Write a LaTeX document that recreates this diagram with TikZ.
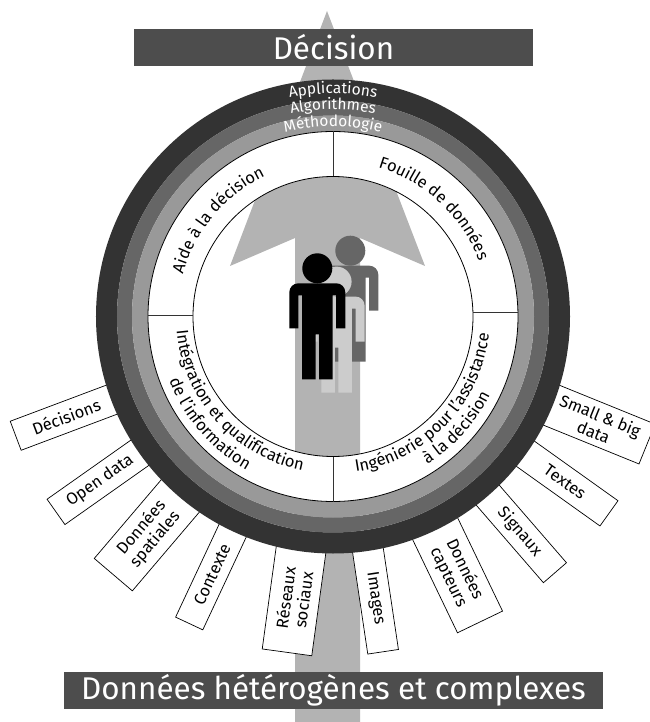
\documentclass[tikz,border=0pt]{standalone}
\usepackage{fontspec}
\usepackage{xcolor}
\setmainfont{Fira Sans}
\usetikzlibrary{decorations.text}

\definecolor{arrowgray}{HTML}{B3B3B3}
\definecolor{bannergray}{HTML}{4D4D4D}
\definecolor{ringdark}{HTML}{333333}
\definecolor{ringmid}{HTML}{666666}
\definecolor{ringlight}{HTML}{999999}
\definecolor{personlight}{HTML}{CCCCCC}

\newcommand{\labfont}{\fontsize{16.5}{18}\selectfont}
\newcommand{\ringfont}{\fontsize{15.5}{18}\selectfont}
\newcommand{\bannerfont}{\fontsize{31.4}{36}\selectfont}

\tikzset{
    srcbox/.style={draw=black,fill=white,line width=0.7pt,minimum width=108pt,inner sep=0pt,align=center,font=\labfont},
    banner/.style={fill=bannergray,text=white,minimum height=37pt,inner sep=0pt,font=\bannerfont},
    annulus/.style={even odd rule}
}

% text along an arc: start angle, end angle, radius, colour, font, text
\newcommand{\arctext}[6]{
    \path[decorate,decoration={text along path,text align=center,text color=#4,text={|#5|#6}}]
        (#1:#3) arc[start angle=#1,end angle=#2,radius=#3];
}
% one person: shift, colour
\newcommand{\drawperson}[2]{
    \begin{scope}[shift={#1}]
        \fill[#2] (0,0) circle (15);
        \fill[#2] (-28,-60) -- (-28,-24) arc[start angle=180,end angle=90,radius=9]
            -- (19,-15) arc[start angle=90,end angle=0,radius=9]
            -- (28,-60) -- (18.9,-60) -- (18.9,-27) -- (15.2,-27) -- (15.2,-111) -- (1.7,-111)
            -- (1.7,-66) -- (-1.7,-66) -- (-1.7,-111) -- (-15.2,-111) -- (-15.2,-27)
            -- (-18.9,-27) -- (-18.9,-60) -- cycle;
    \end{scope}
}

\begin{document}
\begin{tikzpicture}[x=1pt,y=1pt]
    \useasboundingbox (-333,-405.5) rectangle (316,316.5);

    % big arrow
    \fill[arrowgray] (-38,-405.5) -- (-38,78.5) -- (-103,50.5) -- (-6,305.5) -- (92,50.5) -- (27,78.5) -- (27,-405.5) -- cycle;

    % source boxes
    \foreach \ang/\wid/\lab [count=\i] in {200.6/31/Décisions,215.2/31/Open data,229.6/50/{Données\\spatiales},244.9/30/Contexte,262.2/50/{Réseaux\\sociaux}}{
        \node[srcbox,minimum height=\wid pt,rotate=\ang-180] (srcl\i) at (\ang:285) {\lab};
    }
    \foreach \ang/\wid/\lab [count=\i] in {278.5/31/Images,295.7/50/{Données\\capteurs},310.9/30.5/Signaux,324.5/31/Textes,337.9/43/{Small \& big\\data}}{
        \node[srcbox,minimum height=\wid pt,rotate=\ang] (srcr\i) at (\ang:285) {\lab};
    }

    % rings
    \fill[ringdark,annulus] (0,0) circle (237) (0,0) circle (216);
    \fill[ringmid,annulus] (0,0) circle (216) (0,0) circle (201);
    \fill[ringlight,annulus] (0,0) circle (201) (0,0) circle (185);
    \filldraw[fill=white,draw=black,line width=0.8pt,annulus] (0,0) circle (185) (0,0) circle (140);

    % sector limits
    \draw[ringdark,line width=0.8pt] (90:140) -- (90:185);
    \draw[ringdark,line width=0.8pt] (270:140) -- (270:185);
    \draw[ringdark,line width=0.8pt] (-185,0.8) -- (-140,0.8);
    \draw[ringdark,line width=0.8pt] (140,4) -- (185,4);

    % ring texts
    \arctext{150}{30}{223}{white}{\ringfont}{Applications}
    \arctext{150}{30}{207}{white}{\ringfont}{Algorithmes}
    \arctext{150}{30}{190}{white}{\ringfont}{Méthodologie}

    % sector texts
    \arctext{200}{80}{156}{black}{\labfont}{Aide à la décision}
    \arctext{107}{-13}{156}{black}{\labfont}{Fouille de données}
    \arctext{142}{302}{157}{black}{\labfont}{Intégration et qualification}
    \arctext{161}{281}{176}{black}{\labfont}{de l'information}
    \arctext{246}{386}{157}{black}{\labfont}{Ingénierie pour l'assistance}
    \arctext{258}{378}{175.5}{black}{\labfont}{à la décision}

    % persons
    \drawperson{(17.3,65.8)}{ringmid}
    \drawperson{(3.6,34.9)}{personlight}
    \drawperson{(-15.7,48.2)}{black}

    % banners
    \node[banner,minimum width=399pt] (decision) at (0.5,269) {Décision};
    \node[banner,minimum width=539pt] (donnees) at (0.5,-374) {Données hétérogènes et complexes};
\end{tikzpicture}
\end{document}
